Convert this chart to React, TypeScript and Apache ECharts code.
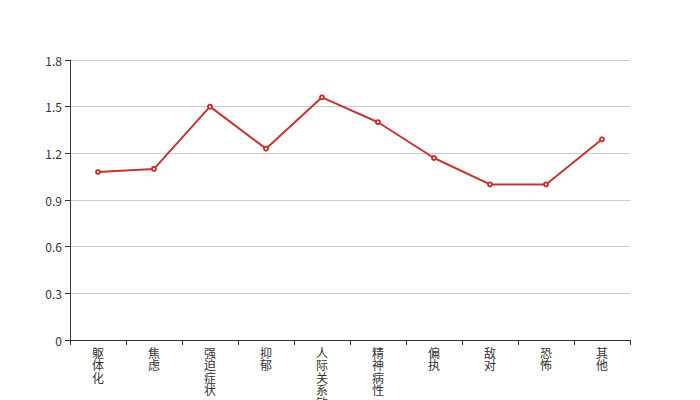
import React, { useEffect, useRef } from "react";
import * as echarts from "echarts";

const categories = ["躯体化", "焦虑", "强迫症状", "抑郁", "人际关系敏感", "精神病性", "偏执", "敌对", "恐怖", "其他"];
const values = [1.08, 1.1, 1.5, 1.23, 1.56, 1.4, 1.17, 1.0, 1.0, 1.29];
const yTicks = { min: 0, max: 1.8, interval: 0.3 };

export default function App() {
  const ref = useRef<HTMLDivElement>(null);
  useEffect(() => {
    const chart = echarts.init(ref.current!, null, { renderer: "svg" });
    chart.setOption({
      animation: false,
      textStyle: { fontFamily: "'Noto Sans CJK SC', sans-serif" },
      grid: { left: 70, right: 70, top: 60, bottom: 60, outerBoundsMode: "none", containLabel: false },
      xAxis: {
        type: "category",
        data: categories,
        axisLine: { lineStyle: { color: "#333" } },
        axisTick: { show: true, alignWithLabel: false, length: 5, lineStyle: { color: "#333" } },
        axisLabel: {
          color: "#333",
          fontSize: 12,
          lineHeight: 12.5,
          interval: 0,
          margin: 6,
          formatter: (v: string) => v.split("").join("\n"),
        },
      },
      yAxis: {
        type: "value",
        min: yTicks.min,
        max: yTicks.max,
        interval: yTicks.interval,
        axisLine: { show: true, lineStyle: { color: "#333" } },
        axisTick: { show: true, length: 5, lineStyle: { color: "#333" } },
        axisLabel: { color: "#333", fontSize: 12 },
        splitLine: { lineStyle: { color: "#ccc" } },
      },
      series: [
        {
          type: "line",
          data: values,
          symbol: "emptyCircle",
          symbolSize: 4,
          itemStyle: { color: "#c23531" },
          lineStyle: { color: "#c23531", width: 2 },
        },
      ],
    });
    return () => chart.dispose();
  }, []);
  return <div ref={ref} style={{ width: 700, height: 400, position: "absolute", left: 0, top: 0 }} />;
}
